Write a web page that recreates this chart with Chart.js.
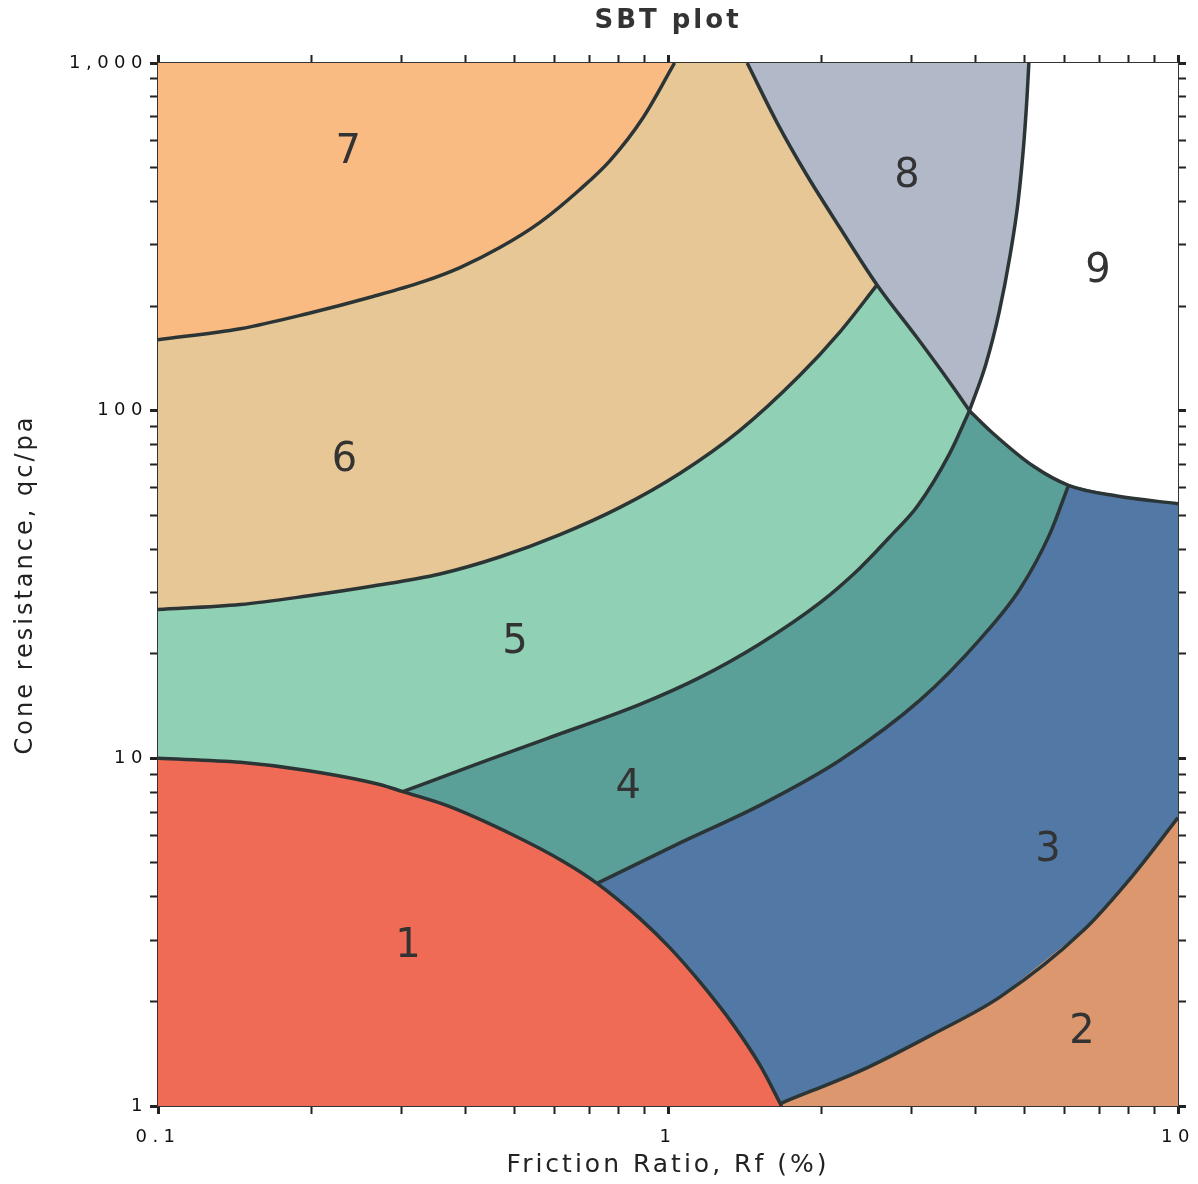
<!DOCTYPE html>
<html>
<head>
<meta charset="utf-8">
<title>SBT plot</title>
<script src="https://cdn.jsdelivr.net/npm/chart.js@4.4.0/dist/chart.umd.min.js"></script>
<style>
  html, body { margin: 0; padding: 0; background: #fff; }
</style>
</head>
<body>
<canvas id="sbtChart" width="1198" height="1184"></canvas>
<script>
// Zone boundaries, as [friction ratio %, qc/pa] pairs.
// Each one runs from one junction of zones to the next.
var s1a = [[0.1, 10], [0.145, 9.74], [0.196, 9.23], [0.272, 8.41], [0.302, 8.02]];
var s1b = [[0.302, 8.02], [0.369, 7.31], [0.497, 6.02], [0.622, 5.06], [0.726, 4.37]];
var s1c = [[0.726, 4.37], [0.881, 3.46], [1.009, 2.85], [1.156, 2.27], [1.34, 1.72], [1.515, 1.31], [1.67, 1]];
var s54 = [[0.302, 8.02], [0.428, 9.7], [0.579, 11.4], [0.881, 14.3], [1.156, 17.1], [1.51, 21.3], [1.99, 28.1], [2.38, 35.3], [2.76, 44.3], [3.08, 53], [3.57, 75.5], [3.9, 100]];
var s43 = [[0.726, 4.37], [1.056, 5.71], [1.51, 7.31], [2.17, 9.86], [3.12, 14.7], [4.09, 22.0], [4.9, 30.7], [5.61, 44.3], [6.1, 61]];
var s94 = [[3.9, 100], [4.34, 86], [5.2, 69.3], [6.1, 61]];
var s93 = [[6.1, 61], [7.59, 56.8], [10, 54]];
var s32 = [[1.67, 1.02], [2.46, 1.29], [3.31, 1.61], [4.48, 2.06], [6.51, 3.19], [8.16, 4.61], [10, 6.75]];
var s89 = [[3.9, 100], [4.2, 136], [4.46, 192], [4.68, 277], [4.86, 401], [4.99, 598], [5.06, 807], [5.1, 1000]];
var s85 = [[3.9, 100], [3.57, 120.5], [3.08, 162], [2.57, 230]];
var s86 = [[2.57, 230], [2.17, 337], [1.87, 477], [1.636, 674], [1.43, 1000]];
var s56 = [[0.1, 26.8], [0.145, 27.7], [0.196, 29.3], [0.264, 31.3], [0.357, 33.9], [0.469, 38], [0.614, 44], [0.805, 52.7], [1.056, 66.1], [1.38, 87.5], [1.81, 126], [2.17, 168], [2.57, 230]];
var s67 = [[0.1, 160], [0.145, 172], [0.196, 190], [0.264, 213], [0.331, 235], [0.391, 258], [0.469, 295], [0.561, 348], [0.671, 432], [0.769, 523], [0.894, 697], [1.03, 1000]];

// zone numbers and where they are written
var zoneNames = ['1', '2', '3', '4', '5', '6', '7', '8', '9'];
var zoneColors = ['#f06b55', '#dc976f', '#5279a6', '#5aa099', '#90d1b6', '#e6c795', '#f9bb82', '#b1b8c8', '#ffffff'];
var labelRf = [0.309, 6.48, 5.56, 0.836, 0.501, 0.232, 0.236, 2.94, 6.97];
var labelQc = [2.87, 1.63, 5.41, 8.24, 21.5, 72, 552, 470, 251];

// axis ticks
var xTicks = [0.1, 0.2, 0.3, 0.4, 0.5, 0.6, 0.7, 0.8, 0.9, 1, 2, 3, 4, 5, 6, 7, 8, 9, 10];
var yTicks = [1, 2, 3, 4, 5, 6, 7, 8, 9, 10, 20, 30, 40, 50, 60, 70, 80, 90, 100, 200, 300, 400, 500, 600, 700, 800, 900, 1000];
var xLabeled = [0.1, 1, 10];
var yLabeled = [1, 10, 100, 1000];

function rev(a) { return a.slice().reverse(); }
function toPoints(a) { return a.map(function (p) { return { x: p[0], y: p[1] }; }); }

// closed outline of each zone, stitched from the shared boundaries
var zoneShapes = [
  [[0.1, 1]].concat(s1a, s1b, s1c),
  s32.concat([[10, 1], [1.68, 1]]),
  s43.concat(s93, rev(s32), rev(s1c)),
  s54.concat(s94, rev(s43), rev(s1b)),
  s56.concat(rev(s85), rev(s54), rev(s1a)),
  s67.concat(rev(s86), rev(s56)),
  [[0.1, 1000]].concat(s67),
  s85.concat(s86, rev(s89)),
  s89.concat([[10, 1000]], rev(s93), rev(s94))
];

// dividing lines, each ordered left to right
var boundaryLines = [
  s1a.concat(s1b.slice(1), s1c.slice(1)),
  s54, s43, s94.concat(s93.slice(1)), s32, s89,
  rev(s86).concat(rev(s85).slice(1)), s56, s67
];

var datasets = [];
boundaryLines.forEach(function (line) {
  datasets.push({
    data: toPoints(line),
    showLine: true,
    fill: false,
    cubicInterpolationMode: 'monotone',
    borderColor: '#2c3535',
    borderWidth: 3.5,
    pointRadius: 0,
    xAxisID: 'x',
    yAxisID: 'y'
  });
});
zoneShapes.forEach(function (shape, i) {
  datasets.push({
    data: toPoints(shape),
    showLine: true,
    fill: 'shape',
    backgroundColor: zoneColors[i],
    borderColor: zoneColors[i],
    borderWidth: 1,
    pointRadius: 0,
    xAxisID: 'x',
    yAxisID: 'y'
  });
});

var textFont = 'DejaVu Sans';

// wider letter spacing, like the original bitmap font (axis titles)
var spacingPlugin = {
  id: 'spacing',
  afterInit: function (chart) { chart.ctx.letterSpacing = '3px'; },
  beforeUpdate: function (chart) { chart.ctx.letterSpacing = '3px'; },
  beforeDraw: function (chart) { chart.ctx.letterSpacing = '3px'; }
};

// zone numbers, placed through the chart scales
var zoneLabelPlugin = {
  id: 'zoneLabels',
  afterDatasetsDraw: function (chart) {
    var ctx = chart.ctx;
    ctx.save();
    ctx.letterSpacing = '0px';
    ctx.font = '40px "' + textFont + '"';
    ctx.fillStyle = '#333';
    ctx.textAlign = 'center';
    ctx.textBaseline = 'middle';
    zoneNames.forEach(function (name, i) {
      var px = chart.scales.x.getPixelForValue(labelRf[i]);
      var py = chart.scales.y.getPixelForValue(labelQc[i]);
      ctx.fillText(name, px, py);
    });
    ctx.restore();
    // tick labels are drawn after this (ticks.z = 1) and are spaced wider
    ctx.letterSpacing = '5.5px';
  }
};

function tickMarkWidth(c) { return c.tick && c.tick.major ? 3 : 2; }

new Chart('sbtChart', {
  type: 'scatter',
  data: { datasets: datasets },
  options: {
    responsive: false,
    animation: false,
    events: [],
    layout: { padding: 0 },
    plugins: { legend: { display: false }, tooltip: { enabled: false } },
    scales: {
      x: {
        type: 'logarithmic',
        position: 'bottom',
        min: 0.1,
        max: 10,
        afterBuildTicks: function (scale) {
          scale.ticks = xTicks.map(function (v) { return { value: v, major: xLabeled.indexOf(v) >= 0 }; });
        },
        afterFit: function (scale) {
          scale.height = 78;
          scale.paddingLeft = 0;
          scale.paddingRight = 0;
        },
        ticks: {
          z: 1, autoSkip: false, maxRotation: 0, padding: 13, color: '#111',
          font: { family: textFont, size: 18 },
          callback: function (v) { return xLabeled.indexOf(v) >= 0 ? String(v) : ''; }
        },
        grid: { drawOnChartArea: false, tickLength: 8, tickColor: '#222', tickWidth: tickMarkWidth },
        border: { display: true, color: '#333', width: 2 },
        title: {
          display: true, text: 'Friction Ratio, Rf (%)', color: '#222',
          font: { family: textFont, size: 25 }, padding: { top: 0, bottom: 4 }
        }
      },
      x2: {
        type: 'logarithmic',
        position: 'top',
        min: 0.1,
        max: 10,
        afterBuildTicks: function (scale) {
          scale.ticks = xTicks.map(function (v) { return { value: v, major: xLabeled.indexOf(v) >= 0 }; });
        },
        afterFit: function (scale) {
          scale.height = 63;
          scale.paddingLeft = 0;
          scale.paddingRight = 0;
        },
        ticks: { display: false },
        grid: { drawOnChartArea: false, tickLength: 8, tickColor: '#222', tickWidth: tickMarkWidth },
        border: { display: true, color: '#333', width: 2 },
        title: {
          display: true, text: 'SBT plot', color: '#333',
          font: { family: textFont, size: 26, weight: 'bold' }, padding: { top: 6, bottom: 0 }
        }
      },
      y: {
        type: 'logarithmic',
        position: 'left',
        min: 1,
        max: 1000,
        afterBuildTicks: function (scale) {
          scale.ticks = yTicks.map(function (v) { return { value: v, major: yLabeled.indexOf(v) >= 0 }; });
        },
        afterFit: function (scale) { scale.width = 158; },
        ticks: {
          z: 1, autoSkip: false, padding: 2, color: '#111',
          font: { family: textFont, size: 18 },
          callback: function (v) { return yLabeled.indexOf(v) >= 0 ? v.toLocaleString('en-US') : ''; }
        },
        grid: { drawOnChartArea: false, tickLength: 8, tickColor: '#222', tickWidth: tickMarkWidth },
        border: { display: true, color: '#333', width: 2 },
        title: {
          display: true, text: 'Cone resistance, qc/pa', color: '#222',
          font: { family: textFont, size: 24 }, padding: { top: 11, bottom: 0 }
        }
      },
      y2: {
        type: 'logarithmic',
        position: 'right',
        min: 1,
        max: 1000,
        afterBuildTicks: function (scale) {
          scale.ticks = yTicks.map(function (v) { return { value: v, major: yLabeled.indexOf(v) >= 0 }; });
        },
        afterFit: function (scale) { scale.width = 20; },
        ticks: { display: false },
        grid: { drawOnChartArea: false, tickLength: 8, tickColor: '#222', tickWidth: tickMarkWidth },
        border: { display: true, color: '#333', width: 2 }
      }
    }
  },
  plugins: [spacingPlugin, zoneLabelPlugin]
});
</script>
</body>
</html>
